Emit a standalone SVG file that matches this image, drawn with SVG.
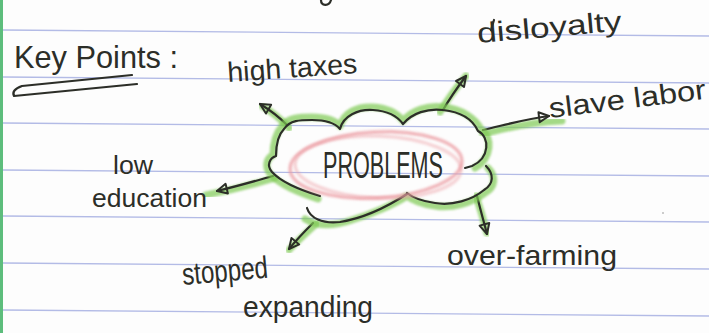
<svg xmlns="http://www.w3.org/2000/svg" width="709" height="333" viewBox="0 0 709 333">
  <defs>
    <style>
      .ink { fill: none; stroke: #2c2e28; stroke-width: 2.2; stroke-linecap: round; stroke-linejoin: round; }
      .hl { fill: none; stroke: #7fca55; stroke-width: 7; stroke-linecap: round; stroke-linejoin: round; opacity: 0.7; filter: url(#soft); }
      .rule { stroke: #b3bbe6; stroke-width: 1.3; }
      .hand { font-family: "Liberation Sans", "DejaVu Sans", sans-serif; fill: #2c2e28; }
      .pink { fill: none; stroke: #ec9ea4; stroke-width: 3.5; opacity: 0.75; filter: url(#soft); }
    </style>
    <filter id="soft" x="-10%" y="-10%" width="120%" height="120%">
      <feGaussianBlur stdDeviation="1.1"/>
    </filter>
    <marker id="head" viewBox="0 0 14 14" refX="12" refY="7" markerWidth="14" markerHeight="14" markerUnits="userSpaceOnUse" orient="auto">
      <path d="M2,2 L12,7 L2,12 Z" fill="none" stroke="#2c2e28" stroke-width="2" stroke-linejoin="round"/>
    </marker>
  </defs>

  <!-- paper -->
  <rect width="709" height="333" fill="#fdfdfd"/>
  <rect x="0" y="0" width="3" height="333" fill="#5dbd7c"/>
  <g id="ruling">
    <line class="rule" x1="3" y1="30" x2="709" y2="36"/>
    <line class="rule" x1="3" y1="77" x2="709" y2="83"/>
    <line class="rule" x1="3" y1="123" x2="709" y2="129"/>
    <line class="rule" x1="3" y1="170" x2="709" y2="176"/>
    <line class="rule" x1="3" y1="216" x2="709" y2="222"/>
    <line class="rule" x1="3" y1="263" x2="709" y2="269"/>
    <line class="rule" x1="3" y1="310" x2="709" y2="316"/>
  </g>
  <!-- ink bits from the line above -->
  <path class="ink" d="M321,0 C321,6 329,7 331,0"/>
  <path class="ink" d="M494,20 L491,30"/>
  <circle cx="663" cy="213" r="1" fill="#bbbbbb"/>

  <!-- heading -->
  <g id="heading">
    <text class="hand" x="14" y="68" font-size="32" textLength="164" lengthAdjust="spacingAndGlyphs">Key Points :</text>
    <path class="ink" d="M132,75 L22,86 Q11,90 14,96 L137,84"/>
  </g>

  <!-- connectors -->
  <g id="connectors">
    <path class="hl" d="M289,128 C280,118 272,112 262,106"/>
    <path class="hl" d="M440,112 C448,98 456,88 466,76"/>
    <path class="hl" d="M483,134 C505,128 530,122 562,121"/>
    <path class="hl" d="M275,178 C255,184 232,190 206,195"/>
    <path class="hl" d="M316,224 C306,233 298,240 289,250"/>
    <path class="hl" d="M476,196 C480,208 483,218 487,233"/>

    <path class="ink" d="M287,125 C278,116 270,110 260,104" marker-end="url(#head)"/>
    <path class="ink" d="M443,110 C450,98 457,88 466,76" marker-end="url(#head)"/>
    <path class="ink" d="M483,130 C505,125 525,119 549,116" marker-end="url(#head)"/>
    <path class="ink" d="M273,176 C255,181 238,186 217,191" marker-end="url(#head)"/>
    <path class="ink" d="M313,223 C305,231 298,238 289,249" marker-end="url(#head)"/>
    <path class="ink" d="M477,196 C480,208 483,219 487,234" marker-end="url(#head)"/>
  </g>

  <!-- central idea -->
  <g id="problems">
    <path class="hl" d="M318,199 C298,192 280,185 270,174 C264,166 267,158 273,155 C273,143 276,133 282,126 C289,117 300,117 312,117 C325,117 335,120 340,126 C344,112 358,106 373,107 C388,108 398,114 403,121 C412,110 428,105 443,107 C462,109 475,118 481,129 C493,137 492,158 475,168"/>
    <path class="hl" d="M488,168 C496,176 496,187 485,193 C472,203 452,209 435,206 C420,204 412,200 407,196 C395,204 372,214 352,220 C335,226 318,227 305,219"/>
    <path class="ink" d="M320,196 C300,190 282,183 272,172 C266,165 270,158 276,156 C276,145 278,135 284,129 C290,120 300,120 312,120 C325,120 335,123 340,129 C343,116 358,109 373,110 C388,111 398,117 403,124 C412,113 428,108 443,110 C462,112 473,120 478,131 C490,137 490,158 472,166 L465,168"/>
    <path class="ink" d="M486,166 C494,174 494,184 484,190 C472,200 452,206 435,203 C420,201 412,197 407,193"/>
    <path class="ink" d="M307,208 C310,218 322,224 340,222 C365,218 390,205 407,194"/>
    <ellipse class="pink" cx="376" cy="165" rx="86" ry="33" transform="rotate(-3 376 165)"/>
    <ellipse class="pink" cx="378" cy="167" rx="83" ry="31" transform="rotate(2 378 167)" style="opacity:0.45"/>
    <text class="hand" x="323" y="178" font-size="36" textLength="120" lengthAdjust="spacingAndGlyphs">PROBLEMS</text>
  </g>

  <!-- outcomes -->
  <g id="high-taxes">
    <text class="hand" x="228" y="82" font-size="28" textLength="130" lengthAdjust="spacingAndGlyphs" transform="rotate(-4 228 82)">high taxes</text>
  </g>
  <g id="disloyalty">
    <text class="hand" x="478" y="43" font-size="28" textLength="145" lengthAdjust="spacingAndGlyphs" transform="rotate(-5 478 43)">disloyalty</text>
  </g>
  <g id="slave-labor">
    <text class="hand" x="550" y="118" font-size="28" textLength="158" lengthAdjust="spacingAndGlyphs" transform="rotate(-7 550 118)">slave labor</text>
  </g>
  <g id="low-education">
    <text class="hand" x="113" y="174" font-size="26" textLength="40" lengthAdjust="spacingAndGlyphs">low</text>
    <text class="hand" x="92" y="207" font-size="26" textLength="115" lengthAdjust="spacingAndGlyphs">education</text>
  </g>
  <g id="stopped-expanding">
    <text class="hand" x="183" y="285" font-size="31" textLength="86" lengthAdjust="spacingAndGlyphs" transform="rotate(-5 183 285)">stopped</text>
    <text class="hand" x="243" y="317" font-size="29" textLength="130" lengthAdjust="spacingAndGlyphs">expanding</text>
  </g>
  <g id="over-farming">
    <text class="hand" x="447" y="265" font-size="28" textLength="170" lengthAdjust="spacingAndGlyphs">over-farming</text>
  </g>
</svg>
